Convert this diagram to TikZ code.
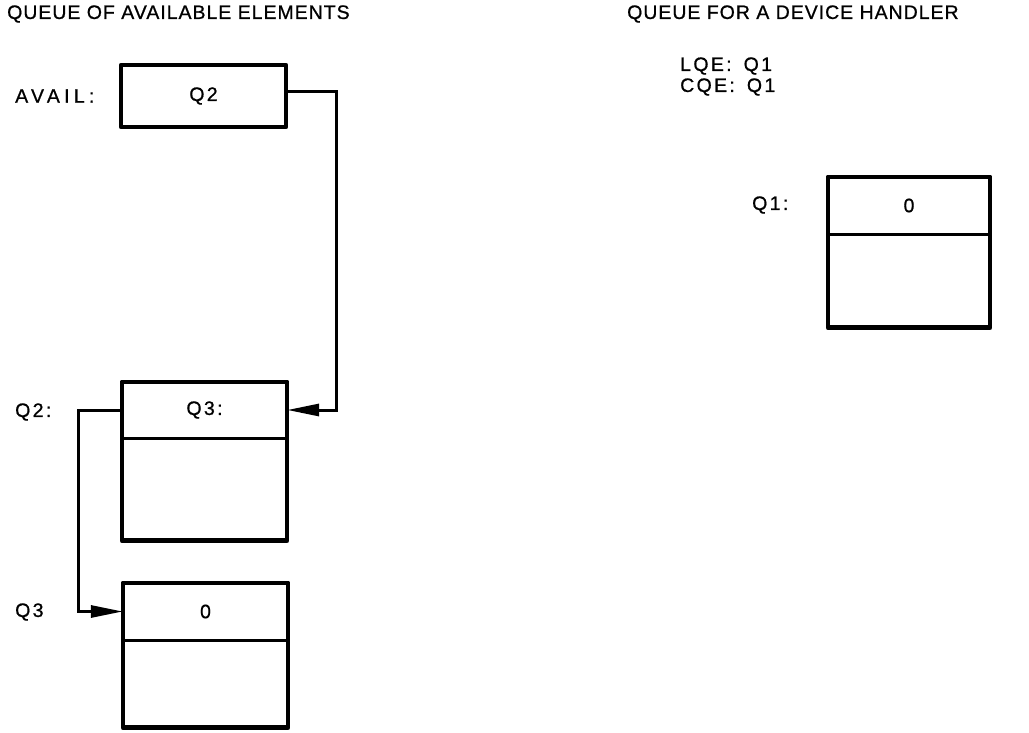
\documentclass[tikz,border=0pt]{standalone}
\usepackage{fontspec}
\setmainfont{Liberation Sans}
\usetikzlibrary{arrows.meta,positioning}
\newfontfamily\ttlfont[LetterSpace=5,FakeBold=0.8]{Liberation Sans}
\newfontfamily\spaced[LetterSpace=12,FakeBold=0.8]{Liberation Sans}
\newfontfamily\wspaced[LetterSpace=22,FakeBold=0.8]{Liberation Sans}
\begin{document}
\begin{tikzpicture}[x=1pt,y=-1pt,
  txt/.style={inner sep=0pt,font=\fontsize{19.5}{22}\spaced},
  ttl/.style={inner sep=0pt,anchor=west,font=\fontsize{19.5}{22}\ttlfont},
  cell/.style={inner sep=0pt,minimum width=165pt,font=\fontsize{19.5}{22}\spaced},
  boxline/.style={line width=4.5pt,line join=round},
  divline/.style={line width=3pt},
  conn/.style={line width=3pt},
  arr/.style={conn,-{Triangle[length=32pt,width=12pt]}}]
\useasboundingbox (0,0) rectangle (1029,733);
% titles
\node[ttl] (t1) at (7,14) {QUEUE OF AVAILABLE ELEMENTS};
\node[ttl] (t2) at (627,14) {QUEUE FOR A DEVICE HANDLER};
% AVAIL
\node[txt,anchor=west,font=\fontsize{19.5}{22}\wspaced] (availlbl) at (15,96) {AVAIL:};
\node[cell,draw,boxline,minimum height=62pt] (avail) at (203.5,96) {Q2};
% Q2 element
\node[cell,minimum height=56pt] (q2top) at (204.5,410) {Q3:};
\node[cell,minimum height=102pt,below=0pt of q2top] (q2bot) {};
\draw[divline] (q2top.south west) -- (q2top.south east);
\draw[boxline] (q2top.north west) rectangle (q2bot.south east);
\node[txt,anchor=west] (q2lbl) at (15,412) {Q2:};
% Q3 element
\node[cell,minimum height=57pt] (q3top) at (205.5,611.5) {0};
\node[cell,minimum height=87pt,below=0pt of q3top] (q3bot) {};
\draw[divline] (q3top.south west) -- (q3top.south east);
\draw[boxline] (q3top.north west) rectangle (q3bot.south east);
\node[txt,anchor=west] (q3lbl) at (15,612) {Q3};
% device handler
\node[txt,anchor=west] (lqe) at (680,66) {LQE:\hspace{12pt}Q1};
\node[txt,anchor=west] (cqe) at (680,87) {CQE:\hspace{12pt}Q1};
\node[cell,minimum height=57pt,minimum width=162pt] (q1top) at (909,205.5) {0};
\node[cell,minimum height=93pt,minimum width=162pt,below=0pt of q1top] (q1bot) {};
\draw[divline] (q1top.south west) -- (q1top.south east);
\draw[boxline] (q1top.north west) rectangle (q1bot.south east);
\node[txt,anchor=west] (q1lbl) at (752,205) {Q1:};
% connectors
\draw[arr] ([yshift=4pt]avail.east) -- ++(48,0) |- (q2top.east);
\draw[arr] (q2top.west) -- ++(-43,0) |- (q3top.west);
\end{tikzpicture}
\end{document}
